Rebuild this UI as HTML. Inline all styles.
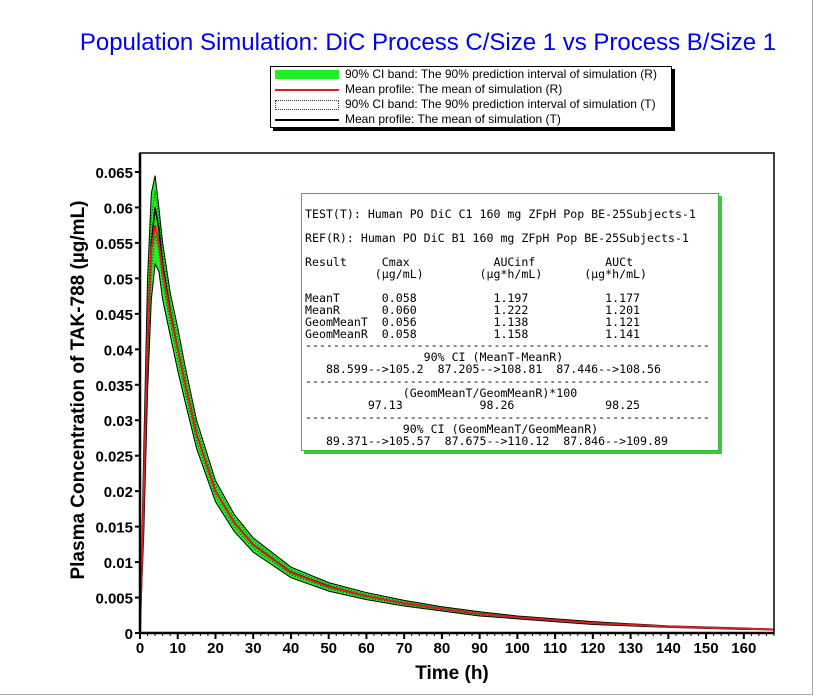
<!DOCTYPE html>
<html><head><meta charset="utf-8"><style>
body{margin:0;background:#fff;}
#wrap{position:relative;width:815px;height:696px;background:#fff;overflow:hidden;font-family:"Liberation Sans",sans-serif;}
#frame{position:absolute;left:0;top:0;width:812px;height:694px;border-right:1px solid #aaa;border-bottom:1px solid #aaa;}
#title{position:absolute;left:0;width:856px;top:29px;text-align:center;color:#0000ee;font-size:24px;white-space:nowrap;}
#legend{position:absolute;left:270px;top:66px;width:400px;height:60px;border:1px solid #000;background:#fff;box-shadow:3px 3px 0 #000;font-size:12px;}
.li{position:absolute;left:4px;height:15px;line-height:15px;}
.sw{display:inline-block;width:64px;vertical-align:middle;margin-right:6px;}
#info{position:absolute;left:301px;top:193px;width:416px;height:256px;border:1px solid #3cb83c;box-shadow:3px 3px 0 #3cc83c;background:#fff;font-family:"DejaVu Sans Mono","Liberation Mono",monospace;font-size:11.6px;line-height:12px;white-space:pre;color:#000;overflow:hidden;}
#info div{position:absolute;left:3px;}
</style></head><body>
<div id="wrap">
<div id="frame"></div>
<div id="title">Population Simulation: DiC Process C/Size 1 vs Process B/Size 1</div>
<svg id="plot" width="815" height="696" style="position:absolute;left:0;top:0"></svg>
<div id="legend">
<div class="li" style="top:0px"><span class="sw" style="height:9px;background:#22ee22"></span>90% CI band: The 90% prediction interval of simulation (R)</div>
<div class="li" style="top:15px"><span class="sw" style="height:0;border-top:2px solid #d42020"></span>Mean profile: The mean of simulation (R)</div>
<div class="li" style="top:30px"><span class="sw" style="height:8px;border:1px dotted #333;width:62px"></span>90% CI band: The 90% prediction interval of simulation (T)</div>
<div class="li" style="top:45px"><span class="sw" style="height:0;border-top:2px solid #000"></span>Mean profile: The mean of simulation (T)</div>
</div>
<div id="info"><div style="top:14px">TEST(T): Human PO DiC C1 160 mg ZFpH Pop BE-25Subjects-1</div><div style="top:38px">REF(R): Human PO DiC B1 160 mg ZFpH Pop BE-25Subjects-1</div><div style="top:62px">Result     Cmax            AUCinf          AUCt
          (µg/mL)        (µg*h/mL)      (µg*h/mL)</div><div style="top:98px">MeanT      0.058           1.197           1.177
MeanR      0.060           1.222           1.201
GeomMeanT  0.056           1.138           1.121
GeomMeanR  0.058           1.158           1.141</div><div style="top:145px">----------------------------------------------------------
                 90% CI (MeanT-MeanR)
   88.599-->105.2  87.205-->108.81  87.446-->108.56
----------------------------------------------------------
              (GeomMeanT/GeomMeanR)*100
         97.13           98.26             98.25
----------------------------------------------------------
              90% CI (GeomMeanT/GeomMeanR)
   89.371-->105.57  87.675-->110.12  87.846-->109.89</div></div>
</div>
<script>
const times=[0,1,2,3,4,5,6,8,10,12,15,20,25,30,40,50,60,70,80,90,100,120,140,160,168];
const meanR=[0,0.02,0.042,0.054,0.0575,0.055,0.051,0.045,0.040,0.035,0.028,0.020,0.0155,0.0124,0.0085,0.0065,0.0052,0.0042,0.0034,0.0027,0.0022,0.0014,0.0009,0.0006,0.0005];
const meanT=[0,0.018,0.040,0.055,0.0600,0.057,0.052,0.0455,0.0402,0.0352,0.0281,0.0201,0.0156,0.0125,0.0086,0.0066,0.0052,0.0042,0.0034,0.0027,0.0022,0.0014,0.0009,0.0006,0.0005];
const bandUpper=[0,0.026,0.05,0.062,0.0645,0.060,0.055,0.048,0.043,0.0375,0.030,0.0215,0.0167,0.0134,0.0093,0.0071,0.0057,0.0046,0.0037,0.003,0.0024,0.0016,0.001,0.0007,0.00055];
const bandLower=[0,0.014,0.034,0.047,0.052,0.051,0.047,0.042,0.037,0.0325,0.026,0.0185,0.0143,0.0114,0.0078,0.0059,0.0047,0.0038,0.0031,0.0024,0.002,0.0012,0.0008,0.0005,0.00045];
const yTicks=[0,0.005,0.01,0.015,0.02,0.025,0.03,0.035,0.04,0.045,0.05,0.055,0.06,0.065];
const xTicks=[0,10,20,30,40,50,60,70,80,90,100,110,120,130,140,150,160];
const L=140,R=774,T=153,B=633,XMAX=168,Y0=633,YPER=(633-172)/0.065;
const X=t=>L+t*(R-L)/XMAX, Y=v=>Y0-v*YPER;
const svg=document.getElementById('plot');const NS='http://www.w3.org/2000/svg';
function mk(tag,at,name){const e=document.createElementNS(NS,tag);for(const k in at)e.setAttribute(k,at[k]);


svg.appendChild(e);return e;}
const up=times.map((t,i)=>X(t)+','+Y(bandUpper[i]));
const lo=times.map((t,i)=>X(t)+','+Y(bandLower[i])).reverse();
mk('polygon',{points:up.concat(lo).join(' '),fill:'#22ee22',stroke:'#000','stroke-width':1},'ci-band');
mk('polyline',{points:times.map((t,i)=>X(t)+','+Y((bandUpper[i]+meanT[i])/2)).join(' '),fill:'none',stroke:'#222','stroke-width':1,'stroke-dasharray':'1,2'},'ci-band-t-upper');
mk('polyline',{points:times.map((t,i)=>X(t)+','+Y((bandLower[i]+meanT[i])/2)).join(' '),fill:'none',stroke:'#222','stroke-width':1,'stroke-dasharray':'1,2'},'ci-band-t-lower');
mk('polyline',{points:times.map((t,i)=>X(t)+','+Y(meanT[i])).join(' '),fill:'none',stroke:'#000','stroke-width':1.5},'mean-line-t');
mk('polyline',{points:times.map((t,i)=>X(t)+','+Y(meanR[i])).join(' '),fill:'none',stroke:'#d42020','stroke-width':2},'mean-line-r');
mk('rect',{x:L,y:T,width:R-L,height:B-T,fill:'none',stroke:'#000','stroke-width':1.5},'plot-border');
mk('line',{x1:L,y1:T,x2:L,y2:B,stroke:'#000','stroke-width':2.5},'y-axis');
mk('line',{x1:L,y1:B,x2:R,y2:B,stroke:'#000','stroke-width':2.5},'x-axis');
yTicks.forEach(v=>{mk('line',{x1:L-5,y1:Y(v),x2:L,y2:Y(v),stroke:'#000','stroke-width':2},'y-tick');
const t=mk('text',{x:L-7,y:Y(v)+6,'text-anchor':'end','font-size':15,'font-weight':'bold','font-family':'Liberation Sans, sans-serif'},'y-tick-label');t.textContent=String(v);});
xTicks.forEach(v=>{mk('line',{x1:X(v),y1:B,x2:X(v),y2:B+6,stroke:'#000','stroke-width':2},'x-tick');
for(let k=1;k<5;k++){const m=v+k*2;if(m<=XMAX)mk('line',{x1:X(m),y1:B,x2:X(m),y2:B+3,stroke:'#000','stroke-width':1},'x-minor-tick');}
const t=mk('text',{x:X(v),y:B+20,'text-anchor':'middle','font-size':15,'font-weight':'bold','font-family':'Liberation Sans, sans-serif'},'x-tick-label');t.textContent=String(v);});
const xt=mk('text',{x:452,y:679,'text-anchor':'middle','font-size':19,'font-weight':'bold','font-family':'Liberation Sans, sans-serif'},'x-axis-title');xt.textContent='Time (h)';
const yt=mk('text',{x:0,y:0,'text-anchor':'middle','font-size':19,'font-weight':'bold','font-family':'Liberation Sans, sans-serif',transform:'translate(84,390) rotate(-90)'},'y-axis-title');yt.textContent='Plasma Concentration of TAK-788 (µg/mL)';
</script>
</body></html>
